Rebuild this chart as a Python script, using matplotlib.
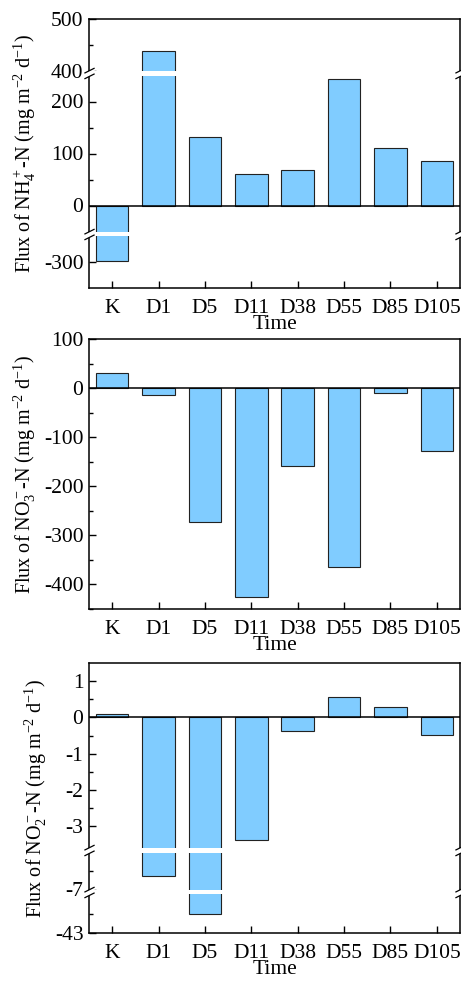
import matplotlib
matplotlib.use("Agg")
import matplotlib.pyplot as plt
import matplotlib.transforms as mtransforms
from matplotlib.path import Path
import numpy as np

categories = ["K", "D1", "D5", "D11", "D38", "D55", "D85", "D105"]
nh4_flux = [-298, 439, 131, 60, 69, 243, 111, 86]
no3_flux = [31, -14, -273, -426, -159, -364, -10, -128]
no2_flux = [0.1, -6.25, -42.0, -3.39, -0.37, 0.56, 0.3, -0.49]

# broken-axis segments, bottom to top: (low, high, height in px)
nh4_segments = [(-350, -250, 52), (-50, 250, 156), (400, 500, 52)]
no3_segments = [(-450, 100, 270)]
no2_segments = [(-43, -41, 39), (-7, -5, 37), (-3.6, 1.5, 185)]
GAP = 4.5

nh4_major = [-300, 0, 100, 200, 400, 500]
nh4_minor = [50, 150, 450]
no3_major = [100, 0, -100, -200, -300, -400]
no3_minor = [50, -50, -150, -250, -350, -450]
no2_major = [1, 0, -1, -2, -3, -7, -43]
no2_minor = [0.5, -0.5, -1.5, -2.5, -6, -42]

BAR_COLOR = "#80CCFF"

plt.rcParams["font.family"] = ["Liberation Serif", "DejaVu Serif"]
plt.rcParams["mathtext.fontset"] = "custom"
plt.rcParams["mathtext.rm"] = "Liberation Serif"
plt.rcParams["mathtext.it"] = "Liberation Serif:italic"
plt.rcParams["axes.unicode_minus"] = False


def piecewise(segments, gap):
    vals, poss = [], []
    pos = 0.0
    for i, (lo, hi, h) in enumerate(segments):
        if i:
            pos += gap
        vals += [lo, hi]
        poss += [pos, pos + h]
        pos += h
    vals = np.array(vals, float)
    poss = np.array(poss, float)

    def mapper(src, dst):
        s0 = (dst[1] - dst[0]) / (src[1] - src[0])
        s1 = (dst[-1] - dst[-2]) / (src[-1] - src[-2])

        def f(v):
            v = np.asarray(v, float)
            out = np.interp(v, src, dst)
            out = np.where(v < src[0], dst[0] + (v - src[0]) * s0, out)
            out = np.where(v > src[-1], dst[-1] + (v - src[-1]) * s1, out)
            return out
        return f

    return mapper(vals, poss), mapper(poss, vals)


def break_marks(ax, y0, y1):
    # white patch over the spine plus two slanted strokes, on both sides
    trans = mtransforms.blended_transform_factory(ax.transAxes, ax.transData)
    fwd = ax.yaxis.get_transform()
    ymid = float(fwd.inverted().transform(
        [(fwd.transform([y0])[0] + fwd.transform([y1])[0]) / 2])[0])
    g = 0.56
    fill = Path([(-1, -g - 0.5), (1, -g + 0.5), (1, g + 0.5), (-1, g - 0.5), (-1, -g - 0.5)])
    lines = Path([(-1, -g - 0.5), (1, -g + 0.5), (-1, g - 0.5), (1, g + 0.5)],
                 [Path.MOVETO, Path.LINETO, Path.MOVETO, Path.LINETO])
    for xa in (0, 1):
        ax.plot([xa], [ymid], transform=trans, marker=fill, markersize=7.8,
                markerfacecolor="white", markeredgecolor="none", clip_on=False, zorder=5)
        ax.plot([xa], [ymid], transform=trans, marker=lines, markersize=7.8,
                markerfacecolor="none", markeredgecolor="black", markeredgewidth=0.9,
                clip_on=False, zorder=6)


def draw_panel(ax, values, segments, major, minor, ylabel):
    x = np.arange(len(categories))
    fwd, inv = piecewise(segments, GAP)
    ax.set_yscale("function", functions=(fwd, inv))
    ax.bar(x, values, width=0.7, color=BAR_COLOR, edgecolor="#222222", linewidth=0.8, zorder=2)
    ax.axhline(0, color="black", linewidth=1.1, zorder=3)
    ax.set_ylim(segments[0][0], segments[-1][1])
    ax.set_xlim(-0.5, len(categories) - 0.5)
    for (lo0, hi0, _), (lo1, hi1, _) in zip(segments[:-1], segments[1:]):
        ax.axhspan(hi0, lo1, color="white", linewidth=0, zorder=4)
        break_marks(ax, hi0, lo1)
    ax.set_yticks(major)
    ax.set_yticks(minor, minor=True)
    ax.set_yticklabels([f"{v:g}" for v in major])
    ax.set_xticks(x)
    ax.set_xticklabels(categories)
    ax.tick_params(axis="both", which="major", direction="in", length=5, width=1,
                   labelsize=15.5, top=False, right=False)
    ax.tick_params(axis="y", which="major", pad=4)
    ax.tick_params(axis="x", which="major", pad=8)
    ax.tick_params(axis="y", which="minor", direction="in", length=3, width=1, right=False)
    ax.tick_params(axis="x", which="minor", bottom=False)
    for sp in ax.spines.values():
        sp.set_linewidth(1.1)
    ax.set_xlabel("Time", fontsize=15.5, labelpad=-2)
    ax.set_ylabel(ylabel, fontsize=14.5, labelpad=4)


W, H = 461, 983
fig = plt.figure(figsize=(W / 100, H / 100), dpi=100)


def box(top, bottom, left=89, right=460):
    return [left / W, 1 - bottom / H, (right - left) / W, (bottom - top) / H]


ax1 = fig.add_axes(box(19, 288))
ax2 = fig.add_axes(box(339, 609))
ax3 = fig.add_axes(box(663, 933))

draw_panel(ax1, nh4_flux, nh4_segments, nh4_major, nh4_minor,
           r"Flux of NH$_4^+$-N (mg m$^{-2}$ d$^{-1}$)")
draw_panel(ax2, no3_flux, no3_segments, no3_major, no3_minor,
           r"Flux of NO$_3^-$-N (mg m$^{-2}$ d$^{-1}$)")
draw_panel(ax3, no2_flux, no2_segments, no2_major, no2_minor,
           r"Flux of NO$_2^-$-N (mg m$^{-2}$ d$^{-1}$)")

fig.savefig("out.png", dpi=100)
